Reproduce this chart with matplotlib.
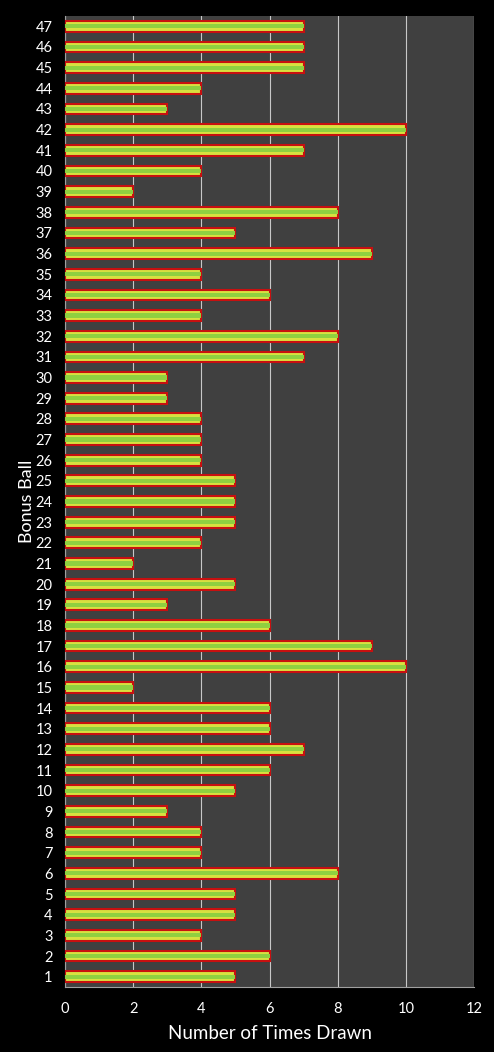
import numpy as np
import matplotlib.pyplot as plt

plt.rcParams['font.family'] = ['Lato', 'DejaVu Sans']

balls = list(range(1, 48))
counts = [5, 6, 4, 5, 5, 8, 4, 4, 3, 5,
          6, 7, 6, 6, 2, 10, 9, 6, 3, 5,
          2, 4, 5, 5, 5, 4, 4, 4, 3, 3,
          7, 8, 4, 6, 4, 9, 5, 8, 2, 4,
          7, 10, 3, 4, 7, 7, 7]

fig = plt.figure(figsize=(4.94, 10.52), dpi=100, facecolor='black')
ax = fig.add_axes([65 / 494, 1 - 987 / 1052, 409 / 494, 971 / 1052])
ax.set_facecolor('#404040')

# outer red-edged bar, then a slimmer greener core to fake the gradient
ax.barh(balls, counts, height=0.52, color='#d8e040', edgecolor='#c81010',
        linewidth=1.5, zorder=3)
ax.barh(balls, counts, height=0.2, color='#8fd040', linewidth=0, zorder=4)

ax.set_xlim(0, 12)
ax.set_ylim(0.5, 47.5)
ax.set_xticks(range(0, 13, 2))
ax.set_yticks(balls)
ax.xaxis.grid(True, color='#c8c8c8', linewidth=0.8, zorder=0)
ax.set_axisbelow(True)
for s in ['top', 'right']:
    ax.spines[s].set_visible(False)
for s in ['left', 'bottom']:
    ax.spines[s].set_color('#a0a0a0')
ax.tick_params(colors='white', labelsize=10.5, length=0)
ax.tick_params(axis='y', pad=9)
ax.tick_params(axis='x', pad=11)
ax.set_xlabel('Number of Times Drawn', color='white', fontsize=13.5, labelpad=6)
ax.set_ylabel('Bonus Ball', color='white', fontsize=13, labelpad=0)

fig.savefig('out.png', facecolor='black')
